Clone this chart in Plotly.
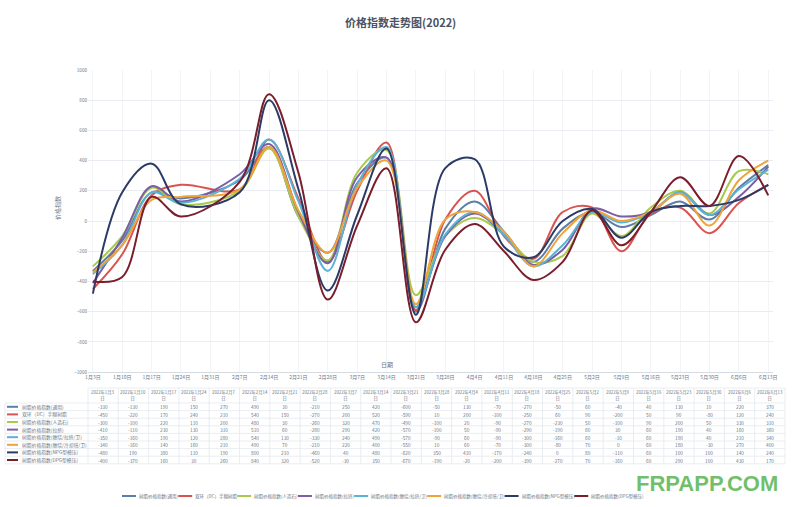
import plotly.graph_objects as go

title = "价格指数走势图(2022)"
dates = ["2022-01-03", "2022-01-10", "2022-01-17", "2022-01-24", "2022-02-07", "2022-02-14",
         "2022-02-21", "2022-02-28", "2022-03-07", "2022-03-14", "2022-03-21", "2022-03-28",
         "2022-04-04", "2022-04-11", "2022-04-18", "2022-04-25", "2022-05-02", "2022-05-09",
         "2022-05-16", "2022-05-23", "2022-05-30", "2022-06-06", "2022-06-13"]
tick_dates = ["2022-01-03", "2022-01-10", "2022-01-17", "2022-01-24", "2022-01-31", "2022-02-07",
              "2022-02-14", "2022-02-21", "2022-02-28", "2022-03-07", "2022-03-14", "2022-03-21",
              "2022-03-28", "2022-04-04", "2022-04-11", "2022-04-18", "2022-04-25", "2022-05-02",
              "2022-05-09", "2022-05-16", "2022-05-23", "2022-05-30", "2022-06-06", "2022-06-13"]
tick_labels = ["1月3日", "1月10日", "1月17日", "1月24日", "1月31日", "2月7日", "2月14日", "2月21日",
               "2月28日", "3月7日", "3月14日", "3月21日", "3月28日", "4月4日", "4月11日", "4月18日",
               "4月25日", "5月2日", "5月9日", "5月16日", "5月23日", "5月30日", "6月6日", "6月13日"]

names = ["树脂价格指数(通用)", "双环（DC）手糊树脂", "树脂价格指数(人造石)", "树脂价格指数(拉挤)",
         "树脂价格指数(缠绕/拉挤/卫)", "树脂价格指数(缠绕/冷却塔/卫)", "树脂价格指数(NPG型模压)",
         "树脂价格指数(DPG型模压)"]
colors = ["#5b7fa6", "#d9534f", "#a9c94c", "#7a5ea6", "#5ab3d4", "#f0a33a", "#2c3a66", "#7a1e2c"]

s_general = [-330, -130, 190, 150, 270, 490, 30, -210, 250, 420, -600, -50, 130, -70, -270, -50, 60, -40, 40, 130, 10, 220, 370]
s_dc = [-450, -220, 170, 240, 210, 540, 150, -270, 200, 520, -590, 10, 200, -100, -250, 60, 90, -200, 50, 90, -80, 120, 240]
s_stone = [-300, -100, 220, 110, 200, 480, 30, -260, 320, 470, -490, -100, 20, -90, -270, -230, 50, -100, 90, 200, 50, 330, 310]
s_pultrude = [-410, -110, 230, 130, 310, 510, 60, -280, 290, 420, -570, -100, 50, -90, -290, -190, 80, 30, 60, 190, 40, 160, 360]
s_wind1 = [-350, -160, 190, 120, 280, 540, 130, -330, 240, 490, -570, -90, 60, -90, -300, -160, 60, -10, 60, 190, 40, 210, 340]
s_wind2 = [-340, -160, 140, 160, 210, 490, 70, -210, 220, 400, -550, 10, 60, -70, -300, -80, 70, 0, 60, 180, -30, 270, 400]
s_npg = [-480, 190, 380, 110, 190, 800, 210, -460, 40, 480, -620, 350, 410, -170, -240, 0, 80, -110, 60, 100, 100, 140, 240]
s_dpg = [-400, -370, 160, 30, 260, 840, 320, -520, -30, 350, -670, -190, -20, -200, -390, -270, 70, -160, 60, 290, 100, 430, 170]
series = [s_general, s_dc, s_stone, s_pultrude, s_wind1, s_wind2, s_npg, s_dpg]

y_ticks = list(range(-1000, 1001, 200))

FONT = "Noto Sans CJK SC"
W, H = 800, 507
TXT = "#6b7686"
GRID = "#e3e8ee"


def px(x):
    return x / W


def py(y):
    return 1 - y / H


def label(text, x, y, size, color=TXT, xanchor="center", family=FONT, **kw):
    return dict(text=text, x=px(x), y=py(y), xref="paper", yref="paper",
                xanchor=xanchor, yanchor="middle", showarrow=False,
                font=dict(size=size, color=color, family=family), **kw)


fig = go.Figure()
for name, color, vals in zip(names, colors, series):
    fig.add_trace(go.Scatter(
        x=dates, y=vals, name=name, mode="lines", showlegend=False,
        line=dict(color=color, width=2, shape="spline", smoothing=1.0)))

annotations = []
shapes = []

# ---- data table (drawn from the same arrays) ----
tbl_left, data_left, data_right = 5, 88, 785
hdr_top, hdr_bot, row_h = 388, 403, 7.6
col_w = (data_right - data_left) / len(dates)
tbl_bot = hdr_bot + row_h * len(names)


def seg(x0, x1, y0, y1, color=GRID, width=0.8):
    shapes.append(dict(type="line", xref="paper", yref="paper", x0=px(x0), x1=px(x1),
                       y0=py(y0), y1=py(y1), line=dict(color=color, width=width)))


seg(data_left, data_right, hdr_top, hdr_top)
for r in range(len(names) + 1):
    y = hdr_bot + r * row_h
    seg(tbl_left, data_right, y, y)
seg(tbl_left, tbl_left, hdr_bot, tbl_bot)
for c in range(len(dates) + 1):
    x = data_left + c * col_w
    seg(x, x, hdr_top, tbl_bot)

for c, d in enumerate(dates):
    yy, mm, dd = d.split("-")
    cx = data_left + (c + 0.5) * col_w
    annotations.append(label(f"{int(yy)}年{int(mm)}月{int(dd)}<br>日", cx,
                             (hdr_top + hdr_bot) / 2, 4.3))

for r, (name, color, vals) in enumerate(zip(names, colors, series)):
    cy = hdr_bot + (r + 0.5) * row_h
    seg(7, 18, cy, cy, color=color, width=2)
    annotations.append(label(name, 20, cy, 4.8, xanchor="left"))
    for c, v in enumerate(vals):
        cx = data_left + (c + 0.5) * col_w
        annotations.append(label(str(v), cx, cy, 4.8))


# ---- legend (line + label, packed like the original) ----
def text_w(s, fs):
    w = 0
    for ch in s:
        if ord(ch) > 0x2E80:
            w += fs
        elif ch in "()/":
            w += 0.36 * fs
        elif ch.isupper():
            w += 0.66 * fs
        else:
            w += 0.56 * fs
    return w


leg_fs = 4.5
leg_y = 496
lx = 122
for name, color in zip(names, colors):
    seg(lx, lx + 14, leg_y, leg_y, color=color, width=2)
    annotations.append(label(name, lx + 15, leg_y, leg_fs, xanchor="left"))
    lx += 15 + text_w(name, leg_fs) + 2

annotations += [
    label("<b>" + title + "</b>", 400, 22, 11, color="#4a5263"),
    label("价格指数", 57, 208, 6, textangle=-90),
    label("日期", 387, 364, 6),
    label("<b>FRPAPP.COM</b>", 707, 483, 22, color="rgba(88,180,80,0.85)",
          family="Liberation Sans"),
]

fig.update_layout(
    width=W, height=H, autosize=False,
    margin=dict(l=0, r=0, t=0, b=0, pad=0, autoexpand=False),
    paper_bgcolor="white", plot_bgcolor="white",
    font=dict(family=FONT, color=TXT, size=6),
    showlegend=False,
    xaxis=dict(domain=[0.11, 0.966], type="date", automargin=False,
               range=["2022-01-01 20:00", "2022-06-14 02:00"],
               tickvals=tick_dates, ticktext=tick_labels, tickangle=0,
               tickfont=dict(size=5, color=TXT),
               showgrid=True, gridcolor="#f2f4f7", gridwidth=1,
               showline=True, linecolor="#d5dbe3", linewidth=1,
               ticks="", zeroline=False, fixedrange=True),
    yaxis=dict(domain=[0.266, 0.862], range=[-1000, 1000], automargin=False,
               tickvals=y_ticks, ticks="",
               tickfont=dict(size=4.6, color=TXT),
               showgrid=True, gridcolor="#e9ecf1", gridwidth=1,
               zeroline=False, showline=False, fixedrange=True),
    annotations=annotations,
    shapes=shapes,
)

fig.write_html("out.html", config={"displayModeBar": False},
               post_script="document.body.style.margin='0';")
